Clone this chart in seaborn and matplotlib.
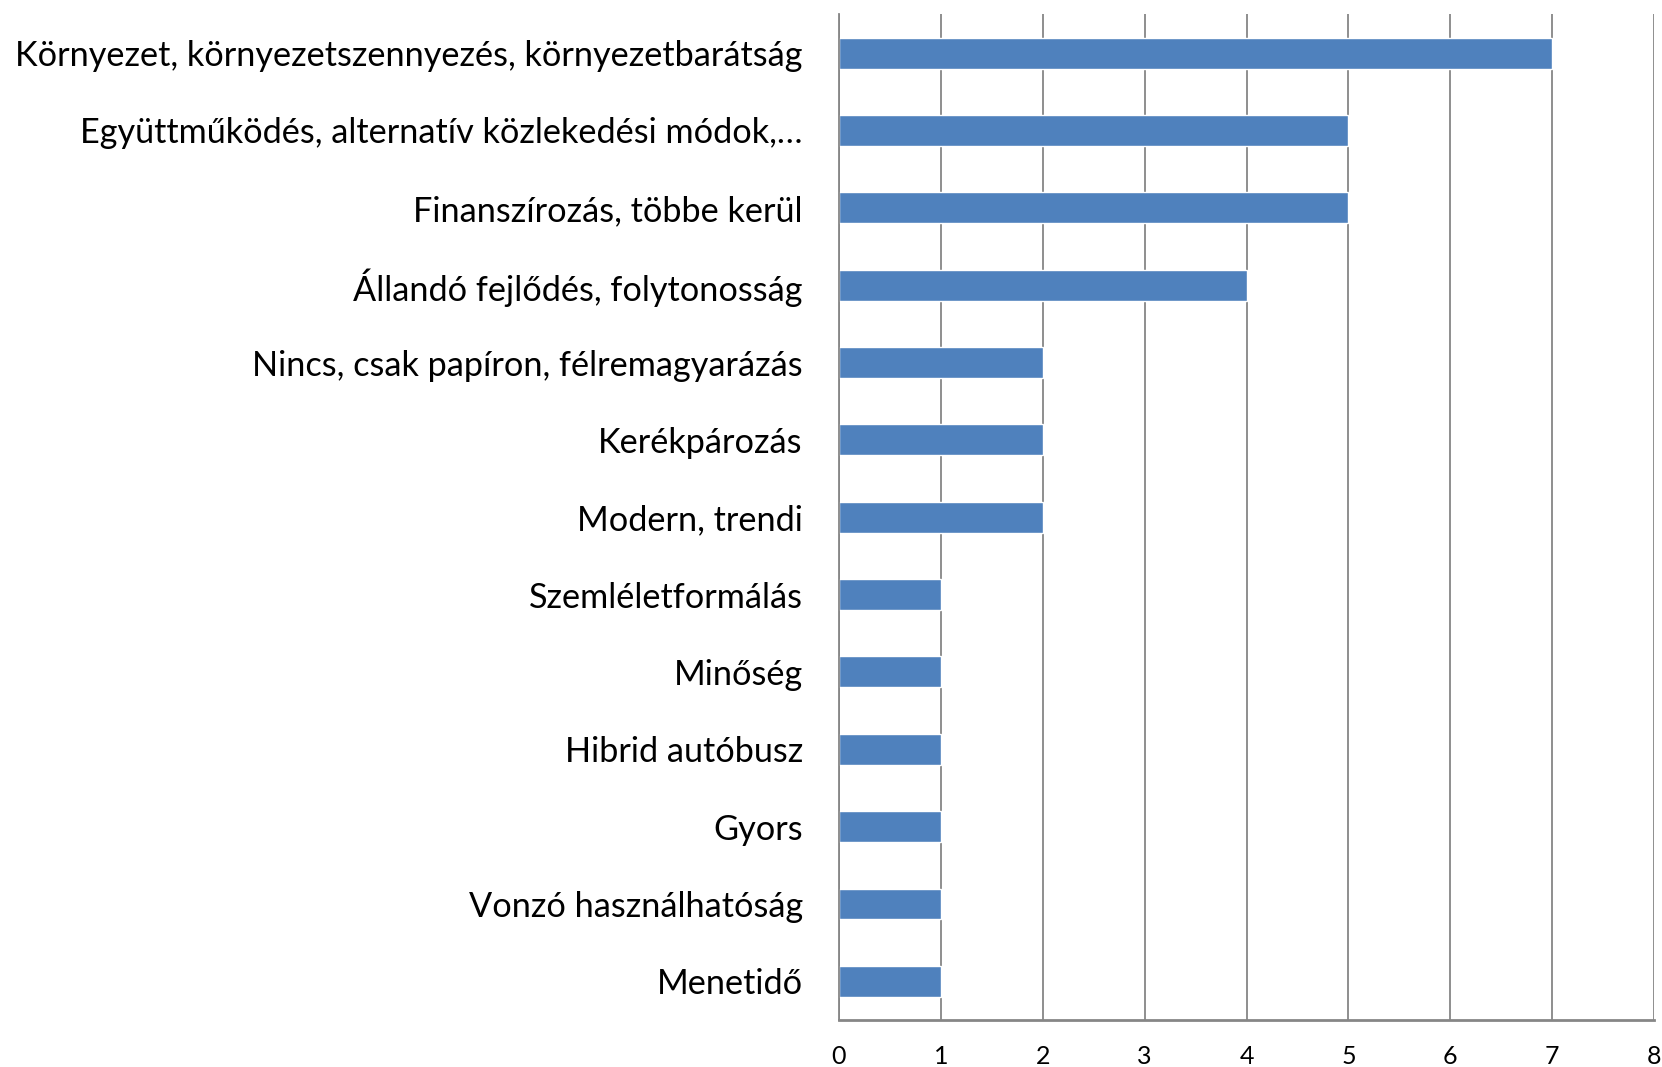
import numpy as np
import pandas as pd
import matplotlib
matplotlib.use('Agg')
import matplotlib.pyplot as plt
import seaborn as sns

# Data
categories = [
    'Környezet, környezetszennyezés, környezetbarátság',
    'Együttműködés, alternatív közlekedési módok,…',
    'Finanszírozás, többe kerül',
    'Állandó fejlődés, folytonosság',
    'Nincs, csak papíron, félremagyarázás',
    'Kerékpározás',
    'Modern, trendi',
    'Szemléletformálás',
    'Minőség',
    'Hibrid autóbusz',
    'Gyors',
    'Vonzó használhatóság',
    'Menetidő',
]
counts = [7, 5, 5, 4, 2, 2, 2, 1, 1, 1, 1, 1, 1]
x_ticks = list(range(0, 9))

sns.set_style('white')
plt.rcParams['font.family'] = ['Lato', 'DejaVu Sans']

df = pd.DataFrame({'category': categories, 'count': counts})

fig = plt.figure(figsize=(16.62, 10.67), dpi=100)
ax = fig.add_axes([0.5048, 0.044, 0.4904, 0.9425])

sns.barplot(data=df, y='category', x='count', orient='h', color='#4F81BD',
            saturation=1, width=0.4, ax=ax)

grid_col = '#868686'
ax.set_xlim(0, 8)
ax.set_ylim(len(categories) - 0.5, -0.5)
ax.set_xticks(x_ticks)
ax.set_xticklabels([str(t) for t in x_ticks], fontsize=18, color='black')
ax.xaxis.grid(True, color=grid_col, linewidth=1.3)
ax.set_axisbelow(True)

# category labels without ticks, tick marks between categories
ax.tick_params(axis='y', which='major', length=0, pad=26, labelsize=24.7,
               labelcolor='black')
ax.set_yticks(np.arange(-0.5, len(categories)), minor=True)
ax.tick_params(axis='y', which='minor', length=9, width=1.3, color=grid_col)
ax.tick_params(axis='x', which='major', length=6, width=1.3, color=grid_col, pad=12)

ax.set_xlabel('')
ax.set_ylabel('')
for side in ['top', 'right']:
    ax.spines[side].set_visible(False)
ax.spines['left'].set_color(grid_col)
ax.spines['left'].set_linewidth(1.3)
ax.spines['bottom'].set_color(grid_col)
ax.spines['bottom'].set_linewidth(2)

plt.savefig('out.png', dpi=100)
